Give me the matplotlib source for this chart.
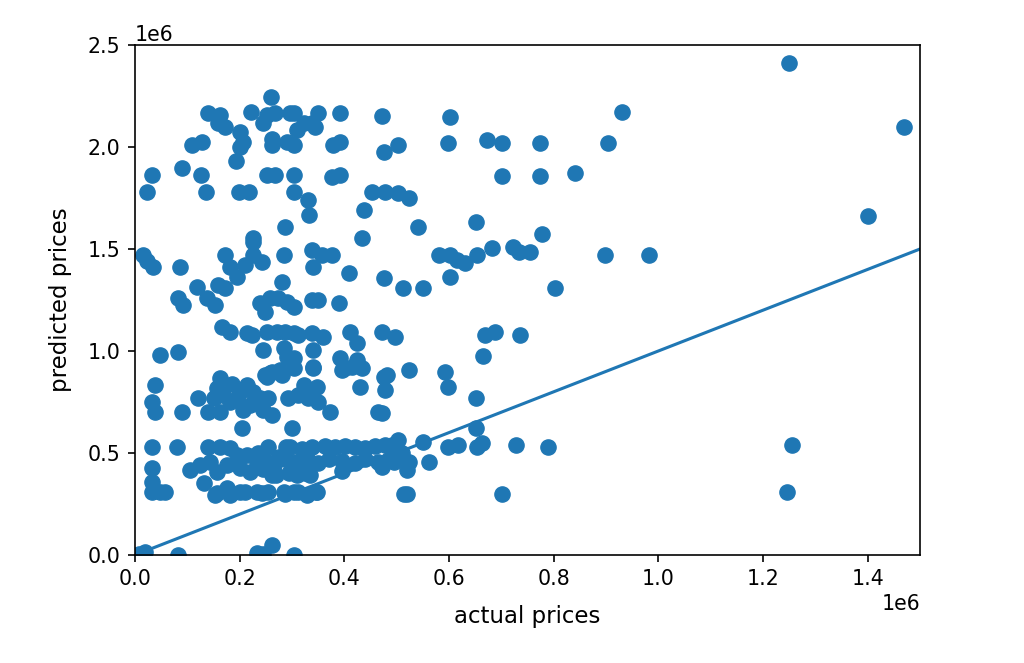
import numpy as np
import matplotlib
matplotlib.use("Agg")
import matplotlib.pyplot as plt

# values, in units of 1e6 dollars
actual = [
    # upper area
    0.26, 0.140, 0.163, 0.159, 0.172, 0.221, 0.252, 0.245, 0.268, 0.296, 0.303, 0.309, 0.322, 0.338, 0.344,
    0.350, 0.391, 0.472, 0.602, 0.931,
    0.108, 0.128, 0.201, 0.207, 0.201, 0.261, 0.261, 0.290, 0.303, 0.379, 0.392, 0.475, 0.503, 0.599,
    0.672, 0.701, 0.773, 0.903,
    0.193, 0.089, 0.032, 0.022, 0.126, 0.136, 0.198, 0.217, 0.252, 0.268, 0.303, 0.303, 0.376, 0.392,
    0.453, 0.477, 0.503, 0.523, 0.701, 0.773, 0.840,
    0.331, 0.333, 0.287, 0.226, 0.437, 0.433, 0.540, 0.651, 0.778,
    1.250, 1.470, 1.400,
    # middle area
    0.016, 0.022, 0.035, 0.086, 0.172, 0.182, 0.194, 0.210, 0.226, 0.242, 0.226, 0.284, 0.338, 0.341, 0.357,
    0.376, 0.408, 0.475,
    0.580, 0.602, 0.615, 0.631, 0.653, 0.682, 0.723, 0.733, 0.755, 0.899, 0.983,
    0.513, 0.551, 0.602, 0.803,
    0.118, 0.159, 0.172, 0.280,
    0.083, 0.092, 0.137, 0.153, 0.239, 0.249, 0.258, 0.274, 0.290, 0.303, 0.338, 0.350, 0.389,
    0.166, 0.182, 0.214, 0.223, 0.252, 0.271, 0.287, 0.303, 0.312, 0.338, 0.360, 0.411, 0.424, 0.472,
    0.497, 0.669, 0.688, 0.736,
    # lower middle
    0.048, 0.083, 0.245, 0.284, 0.290, 0.303, 0.277, 0.258, 0.252, 0.341, 0.341, 0.392, 0.402, 0.424,
    0.433, 0.430, 0.475, 0.478, 0.665, 0.523, 0.593, 0.599, 0.652,
    0.038, 0.032, 0.038, 0.089, 0.121, 0.140, 0.163, 0.156, 0.150, 0.169, 0.163, 0.182, 0.194, 0.214,
    0.226, 0.220, 0.239, 0.249, 0.185, 0.200,
    0.261, 0.280, 0.303, 0.341, 0.395, 0.414, 0.481, 0.322, 0.347, 0.255, 0.293, 0.312, 0.331, 0.350,
    0.373, 0.261, 0.465, 0.207, 0.245, 0.472,
    0.204, 0.300, 0.652,
    # lower band
    0.032, 0.080, 0.140, 0.163, 0.182, 0.194, 0.214, 0.233, 0.252,
    0.105, 0.124, 0.143, 0.156, 0.175, 0.201, 0.220, 0.032, 0.032, 0.048, 0.057, 0.131, 0.156, 0.175,
    0.201, 0.233, 0.032, 0.153, 0.182, 0.210, 0.242, 0.284, 0.303, 0.328, 0.347,
    0.255, 0.288, 0.296, 0.319, 0.338, 0.363, 0.382, 0.402, 0.421, 0.440, 0.459, 0.478, 0.491, 0.503,
    0.551, 0.599, 0.618, 0.653, 0.663, 0.728, 0.790,
    0.260, 0.286, 0.305, 0.331, 0.350, 0.370, 0.395, 0.420, 0.440, 0.465, 0.484,
    0.510, 0.523, 0.519, 0.494, 0.472, 0.561,
    0.261, 0.295, 0.310, 0.325, 0.335, 0.395,
    0.235, 0.265, 0.275, 0.245, 0.270,
    0.255, 0.287, 0.312, 0.345, 0.514, 0.520, 0.701,
    # near zero and right outliers
    0.019, 0.008, 0.083, 0.233, 0.261, 0.303, 0.245,
    1.255, 1.245,
]

predicted = [
    # upper area
    2.245, 2.165, 2.157, 2.116, 2.100, 2.173, 2.157, 2.116, 2.165, 2.165, 2.165, 2.083, 2.116, 2.116, 2.100,
    2.165, 2.165, 2.150, 2.149, 2.173,
    2.010, 2.026, 2.075, 2.026, 2.000, 2.040, 2.010, 2.026, 2.010, 2.010, 2.026, 1.977, 2.010, 2.021,
    2.034, 2.021, 2.021, 2.021,
    1.933, 1.895, 1.863, 1.781, 1.863, 1.781, 1.781, 1.781, 1.863, 1.863, 1.863, 1.781, 1.855, 1.863,
    1.781, 1.781, 1.773, 1.749, 1.859, 1.859, 1.874,
    1.740, 1.667, 1.609, 1.552, 1.691, 1.552, 1.609, 1.630, 1.574,
    2.410, 2.100, 1.660,
    # middle area
    1.470, 1.440, 1.413, 1.413, 1.470, 1.413, 1.364, 1.420, 1.470, 1.437, 1.536, 1.470, 1.495, 1.413, 1.470,
    1.470, 1.381, 1.356,
    1.470, 1.470, 1.446, 1.430, 1.470, 1.503, 1.511, 1.487, 1.487, 1.470, 1.470,
    1.307, 1.307, 1.364, 1.307,
    1.315, 1.324, 1.307, 1.340,
    1.258, 1.225, 1.258, 1.225, 1.234, 1.193, 1.258, 1.258, 1.242, 1.217, 1.250, 1.250, 1.234,
    1.119, 1.095, 1.087, 1.078, 1.095, 1.095, 1.095, 1.087, 1.078, 1.087, 1.070, 1.095, 1.038, 1.095,
    1.070, 1.078, 1.095, 1.078,
    # lower middle
    0.980, 0.997, 1.005, 1.013, 0.972, 0.964, 0.907, 0.891, 0.874, 1.005, 0.923, 0.964, 0.915, 0.956,
    0.915, 0.825, 0.874, 0.809, 0.975, 0.907, 0.899, 0.825, 0.768,
    0.833, 0.751, 0.703, 0.703, 0.768, 0.703, 0.866, 0.817, 0.768, 0.784, 0.703, 0.751, 0.768, 0.833,
    0.800, 0.735, 0.768, 0.882, 0.840, 0.800,
    0.898, 0.882, 0.915, 0.915, 0.907, 0.923, 0.882, 0.833, 0.825, 0.768, 0.768, 0.784, 0.768, 0.751,
    0.703, 0.686, 0.703, 0.710, 0.710, 0.694,
    0.621, 0.621, 0.621,
    # lower band
    0.531, 0.531, 0.531, 0.531, 0.523, 0.490, 0.490, 0.457, 0.457,
    0.417, 0.441, 0.457, 0.408, 0.441, 0.425, 0.408, 0.425, 0.359, 0.310, 0.310, 0.351, 0.302, 0.327,
    0.310, 0.310, 0.310, 0.294, 0.294, 0.310, 0.302, 0.310, 0.310, 0.294, 0.310,
    0.530, 0.530, 0.530, 0.520, 0.530, 0.535, 0.530, 0.535, 0.530, 0.525, 0.535, 0.539, 0.540, 0.564,
    0.555, 0.531, 0.539, 0.531, 0.548, 0.539, 0.528,
    0.450, 0.470, 0.455, 0.465, 0.450, 0.470, 0.460, 0.450, 0.470, 0.455, 0.465,
    0.498, 0.457, 0.417, 0.457, 0.433, 0.457,
    0.390, 0.400, 0.390, 0.400, 0.390, 0.410,
    0.500, 0.440, 0.480, 0.420, 0.390,
    0.310, 0.300, 0.310, 0.310, 0.299, 0.299, 0.299,
    # near zero and right outliers
    0.016, 0.005, 0.000, 0.008, 0.049, 0.000, 0.005,
    0.540, 0.310,
]

y_test = np.array(actual) * 1e6
y_pred = np.array(predicted) * 1e6

scale = 1.48
plt.rcParams.update({
    "font.size": 10 * scale,
    "axes.linewidth": 0.8 * scale,
    "xtick.major.size": 3.5 * scale,
    "ytick.major.size": 3.5 * scale,
    "xtick.major.width": 0.8 * scale,
    "ytick.major.width": 0.8 * scale,
    "xtick.major.pad": 3.5 * scale,
    "ytick.major.pad": 3.5 * scale,
})

fig = plt.figure(figsize=(10.24, 6.63), dpi=100)
ax = fig.add_axes([135 / 1024, 108 / 663, 785 / 1024, 510 / 663])

ax.scatter(y_test, y_pred, s=120)
ax.plot([0, 1.5e6], [0, 1.5e6], lw=1.5 * scale)
ax.set_xlim(0, 1.5e6)
ax.set_ylim(0, 2.5e6)
ax.set_xlabel("actual prices", fontsize=16.5, labelpad=11)
ax.set_ylabel("predicted prices", fontsize=16.5, labelpad=11)

fig.savefig("out.png", dpi=100)
